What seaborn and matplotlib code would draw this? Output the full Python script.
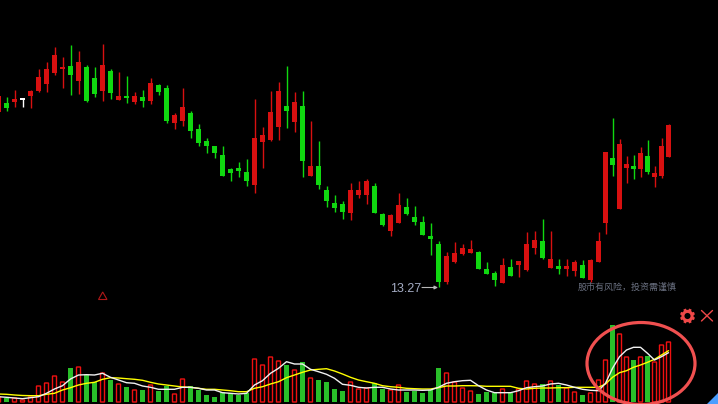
import numpy as np
import pandas as pd
import matplotlib
matplotlib.use('Agg')
import matplotlib.pyplot as plt
from matplotlib.patches import Ellipse, Polygon, Circle
import seaborn as sns

# 日K线 (first candle is cut off by the left edge)
open_price = [30.8, 31.7, 31.8, 32.05, 32.4, 32.9, 33.6, 34.7, 35.1, 35.4, 33.9, 35.3, 34.2, 32.9, 34.9, 32.0, 32.4,
              31.8, 32.3, 31.9, 33.5, 33.2, 29.7, 29.9, 30.7, 29.1, 27.9, 27.4, 26.5, 25.1, 25.2, 24.8, 23.5, 27.8,
              28.0, 29.3, 31.4, 29.8, 31.4, 24.4, 25.4, 23.0, 21.7, 21.6, 20.7, 22.5, 22.5, 23.4, 20.6, 18.9, 19.7,
              21.3, 20.3, 19.8, 18.4, 17.6, 13.8, 15.8, 16.6, 16.7, 16.8, 15.1, 14.7, 13.7, 15.3, 15.5, 15.0, 17.2,
              17.9, 15.2, 15.4, 15.1, 14.9, 15.5, 14.0, 15.8, 19.7, 26.2, 21.1, 25.2, 25.4, 25.1, 26.4, 24.3, 24.4,
              26.3]
close_price = [32.4, 31.2, 32.1, 32.05, 32.9, 34.3, 35.1, 36.5, 35.3, 34.5, 35.8, 31.9, 32.6, 35.5, 32.7, 32.4, 32.2,
               32.4, 31.9, 33.7, 32.8, 29.9, 30.5, 31.3, 28.9, 27.7, 27.4, 26.7, 24.4, 24.7, 24.9, 23.9, 28.2, 28.5,
               30.8, 32.9, 30.9, 31.8, 25.9, 25.4, 23.5, 21.9, 21.2, 20.8, 23.0, 23.0, 23.9, 20.7, 19.5, 20.5, 21.5,
               20.6, 19.8, 18.5, 18.1, 13.8, 16.4, 16.7, 17.2, 17.1, 15.1, 14.6, 14.0, 15.5, 14.4, 15.9, 17.6, 18.0,
               16.2, 16.1, 15.1, 15.4, 15.8, 14.2, 16.0, 17.9, 26.8, 25.5, 27.6, 25.6, 25.1, 26.7, 24.8, 24.7, 27.4,
               29.5]
high_price = [32.7, 32.3, 33.0, 32.2, 33.0, 35.1, 35.8, 37.3, 36.3, 37.5, 36.9, 35.5, 35.3, 37.6, 35.1, 34.8, 34.4,
              32.8, 33.0, 34.2, 33.6, 33.5, 30.7, 33.2, 30.9, 29.6, 28.2, 27.4, 27.4, 25.2, 25.8, 26.1, 32.1, 29.3,
              32.9, 33.8, 35.4, 32.8, 32.9, 29.9, 27.9, 23.4, 22.5, 21.9, 23.7, 23.9, 24.1, 23.7, 20.7, 20.6, 22.7,
              22.2, 21.4, 20.4, 19.7, 17.9, 16.8, 17.8, 17.6, 18.0, 16.9, 15.8, 14.9, 16.2, 16.1, 15.9, 18.8, 18.9,
              20.1, 18.9, 16.1, 16.1, 16.0, 16.0, 16.1, 18.8, 26.8, 30.2, 28.1, 26.4, 26.5, 27.3, 28.0, 25.4, 28.2,
              29.6]
low_price = [30.7, 30.9, 31.3, 31.3, 31.2, 32.8, 32.8, 34.5, 33.2, 32.5, 32.6, 31.8, 32.3, 31.9, 32.1, 32.0, 31.7,
             31.6, 31.3, 31.6, 32.5, 29.7, 29.1, 29.4, 28.2, 27.4, 26.7, 26.2, 24.4, 23.9, 24.3, 23.4, 22.7, 25.2,
             27.9, 28.0, 29.2, 28.8, 24.3, 24.4, 23.1, 21.3, 20.8, 20.1, 20.0, 22.2, 21.6, 20.7, 19.4, 18.4, 19.7,
             20.5, 19.5, 18.5, 16.5, 13.27, 13.6, 15.7, 16.5, 16.7, 15.1, 14.6, 13.4, 13.7, 14.4, 14.3, 14.9, 16.6,
             16.1, 15.2, 14.6, 14.4, 14.4, 14.2, 13.8, 15.8, 18.6, 24.4, 21.1, 23.7, 24.1, 24.3, 24.6, 23.3, 24.2,
             26.3]

# 成交量和两条均线
volume = [5, 4, 4, 2, 5, 16, 19, 26, 20, 34, 35, 27, 20, 29, 22, 18, 15, 12, 12, 17, 11, 16, 8, 23, 16, 12, 7, 5, 10,
          9, 7, 9, 43, 37, 45, 41, 37, 32, 40, 24, 22, 20, 13, 11, 20, 13, 14, 19, 13, 12, 17, 10, 11, 9, 12, 34, 29,
          20, 14, 11, 8, 10, 9, 13, 9, 13, 21, 18, 18, 21, 17, 14, 10, 7, 9, 22, 42, 77, 68, 45, 42, 45, 46, 40, 57,
          60]
vol_ma_white = [5.3, 4.7, 4, 3.3, 4.3, 5.3, 8.7, 13, 16.3, 23, 27, 27.3, 27, 28.7, 24.7, 22, 19.3, 18.7, 16, 14.7,
                12.7, 12.7, 12.7, 14.7, 14.7, 13.7, 12, 12, 9.3, 8.7, 8, 8.7, 17, 21.3, 28.7, 33.7, 40.3, 38, 38,
                32.7, 30.3, 27.7, 23.7, 17.7, 16.7, 14.7, 14, 14.7, 14.7, 13, 12, 12, 12, 11.7, 12, 14.7, 18.7, 20.3,
                21.3, 21.7, 16.3, 12, 9.3, 9.3, 9.3, 11.3, 14.3, 15.3, 16, 18, 18.7, 17, 14.7, 12.7, 11.7, 11.3,
                18.7, 33.7, 45.3, 52, 54.7, 54.7, 48.7, 42, 45.3, 49.3]
vol_ma_yellow = [8, 7.7, 7, 6.5, 6.3, 6.3, 7.7, 8.7, 12, 14.3, 17, 18.7, 19.7, 22.7, 24.3, 24, 23.3, 22.7, 21.7, 19.7,
                 18, 17, 16, 15, 14.7, 13.7, 12.7, 12.7, 12, 11.3, 10.3, 10.3, 13.7, 15.3, 18, 20.3, 24.3, 27, 29.7,
                 32, 32.7, 33.3, 31, 28, 24.7, 22, 20.3, 18.7, 16.3, 15.3, 14.7, 13.7, 13.3, 13, 13, 14.3, 16, 16,
                 16.3, 16.3, 16.2, 15.7, 15.7, 15.7, 15.7, 13.7, 13, 13.7, 14, 14, 14.3, 14.3, 14.7, 14.7, 14.7, 14.7,
                 18, 24.7, 29.3, 31.3, 34.7, 37, 39.7, 42.7, 47, 51.3]

RED = '#d81010'
GREEN = '#10d810'
ICON = '#f04848'
W, H = 718, 404

sns.set_theme(style='dark', rc={'figure.facecolor': 'black', 'axes.facecolor': 'black'})
plt.rcParams['font.family'] = ['Noto Sans CJK SC', 'DejaVu Sans']

o = np.array(open_price)
c = np.array(close_price)
h = np.array(high_price)
l = np.array(low_price)

# the last ten candles sit closer together than the rest
n = len(o)
steps = np.where(np.arange(n) > 75, 7, 8)
steps[0] = 0
pos = -1.5 + np.cumsum(steps)

colors = np.where(c > o, RED, np.where(c < o, GREEN, 'white'))

fig = plt.figure(figsize=(W / 100, H / 100), dpi=100)

# 1. K线
ax1 = fig.add_axes([0, 0, 1, 1])
ax1.vlines(pos, l, h, colors=colors, lw=1.0)
body = np.maximum(np.abs(c - o), 0.1)
ax1.bar(pos, body, bottom=np.minimum(o, c), width=5, color=colors, linewidth=0, antialiased=False)
ax1.set_xlim(0, W)
ax1.set_ylim(1.6, 42)
ax1.axis('off')

# 2. 成交量
df = pd.DataFrame({'pos': pos, 'volume': volume, 'white': vol_ma_white, 'yellow': vol_ma_yellow,
                   'side': np.where(c < o, 'down', 'up')})
ax2 = fig.add_axes([0, 0, 1, 84 / H])
ax2.patch.set_alpha(0)
sns.barplot(data=df, x='pos', y='volume', hue='side', hue_order=['up', 'down'], palette={'up': RED, 'down': GREEN},
            native_scale=True, dodge=False, width=5 / 7, legend=False, ax=ax2)
for rect in ax2.containers[0]:
    rect.set_x(rect.get_x() + 0.5)
    rect.set_width(4)
    rect.set_facecolor('none')
    rect.set_edgecolor('#f01010')
    rect.set_linewidth(1.0)
    rect.set_snap(False)
for rect in ax2.containers[1]:
    rect.set_linewidth(0)
    rect.set_antialiased(False)
sns.lineplot(data=df, x='pos', y='yellow', color='#ffff00', lw=1, errorbar=None, ax=ax2)
sns.lineplot(data=df, x='pos', y='white', color='#f0f0f0', lw=1, errorbar=None, ax=ax2)
ax2.set_xlim(0, W)
ax2.set_ylim(-2, 82)
ax2.axis('off')

# 3. 标注, 图标
ax3 = fig.add_axes([0, 0, 1, 1])
ax3.patch.set_alpha(0)
ax3.set_xlim(0, W)
ax3.set_ylim(H, 0)
ax3.axis('off')
ax3.add_patch(Ellipse((641, 363.5), 108, 82, fill=False, ec='#f05050', lw=2.3))
ax3.add_patch(Polygon([(102.7, 292), (98.5, 299.5), (107, 299.5)], fill=False, ec='#b01818', lw=0.8))
ax3.text(390, 288.5, '13.27', color='#a4acc4', fontsize=9, family='Liberation Sans', va='center')
ax3.annotate('', xy=(438, 287.5), xytext=(422, 287.5),
             arrowprops=dict(arrowstyle='-|>', color='#b8b8b8', lw=0.8, mutation_scale=5, shrinkA=0, shrinkB=0))
ax3.text(578, 287, '股市有风险，投资需谨慎', color='#6a7080', fontsize=6.5, va='center')

# gear icon: ring plus eight teeth
gear_x, gear_y = 687.5, 316
ax3.add_patch(Circle((gear_x, gear_y), 4.6, fill=False, ec=ICON, lw=2.2))
for a in np.arange(8) * np.pi / 4 + np.pi / 8:
    ax3.plot([gear_x + 5 * np.cos(a), gear_x + 7.5 * np.cos(a)], [gear_y + 5 * np.sin(a), gear_y + 7.5 * np.sin(a)],
             color=ICON, lw=2, solid_capstyle='butt')
ax3.plot([701.5, 712.5], [310.5, 321], color=ICON, lw=1)
ax3.plot([701.5, 712.5], [321, 310.5], color=ICON, lw=1)
ax3.add_patch(Polygon([(718, 393), (718, 404), (707, 404)], fc='#4a9eff', ec='none'))

fig.savefig('out.png', dpi=100, facecolor='black')
